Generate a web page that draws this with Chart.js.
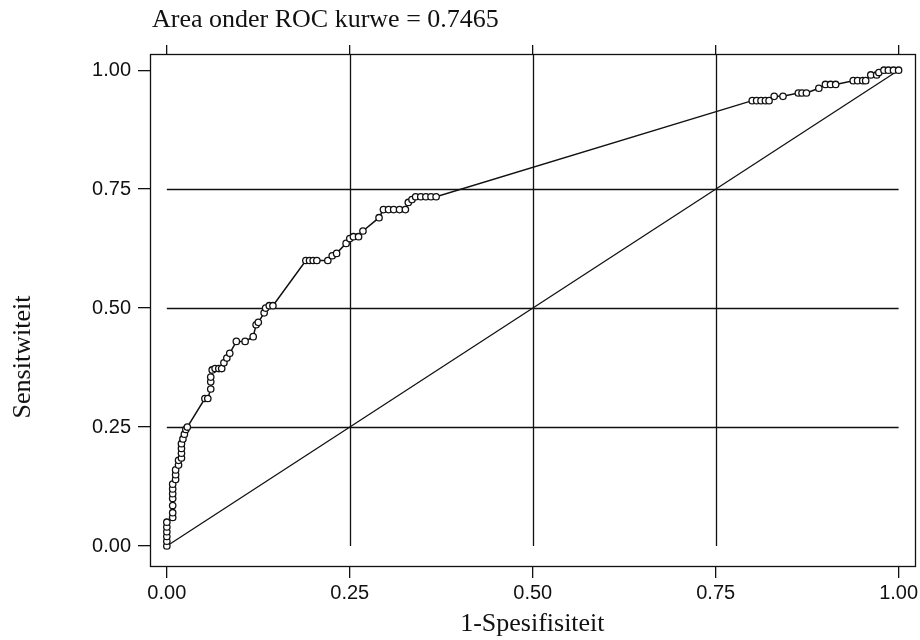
<!DOCTYPE html>
<html>
<head>
<meta charset="utf-8">
<title>ROC kurwe</title>
<script src="https://cdn.jsdelivr.net/npm/chart.js@4.4.1/dist/chart.umd.min.js"></script>
<style>
    html, body { margin: 0; padding: 0; background: #fff; }
    #wrap { width: 920px; height: 640px; position: relative; }
</style>
</head>
<body>
<div id="wrap"><canvas id="rocChart" width="920" height="640"></canvas></div>
<script>
// ROC curve points (1-spesifisiteit, sensitiwiteit)
const rocFpr = [
    0, 0, 0, 0, 0, 0,
    0.008, 0.008, 0.008, 0.008, 0.008, 0.008, 0.008,
    0.012, 0.012, 0.012, 0.016, 0.016,
    0.02, 0.02, 0.02, 0.02, 0.022, 0.024, 0.026, 0.028,
    0.052, 0.056, 0.06, 0.06, 0.06, 0.062, 0.066, 0.071, 0.075,
    0.078, 0.082, 0.086, 0.095, 0.107, 0.118, 0.122, 0.125, 0.133, 0.135, 0.14, 0.145,
    0.19, 0.195, 0.2, 0.205, 0.22, 0.226, 0.232, 0.245, 0.25, 0.255, 0.262, 0.268,
    0.29, 0.296, 0.303, 0.31, 0.318, 0.326, 0.33, 0.335, 0.34, 0.347, 0.354, 0.361, 0.368,
    0.8, 0.806, 0.812, 0.818, 0.823, 0.83, 0.842, 0.863, 0.868, 0.874,
    0.891, 0.9, 0.907, 0.914, 0.938, 0.944, 0.951, 0.955,
    0.962, 0.97, 0.973, 0.98, 0.986, 0.993, 1
];
const rocTpr = [
    0, 0.01, 0.02, 0.03, 0.04, 0.05,
    0.06, 0.07, 0.085, 0.1, 0.11, 0.12, 0.13,
    0.14, 0.15, 0.16, 0.17, 0.18,
    0.185, 0.195, 0.205, 0.215, 0.225, 0.235, 0.245, 0.25,
    0.31, 0.31, 0.33, 0.345, 0.355, 0.37, 0.373, 0.373, 0.373,
    0.385, 0.395, 0.405, 0.43, 0.43, 0.44, 0.465, 0.47, 0.49, 0.5, 0.505, 0.505,
    0.6, 0.6, 0.6, 0.6, 0.6, 0.61, 0.615, 0.636, 0.646, 0.65, 0.65, 0.662,
    0.69, 0.707, 0.707, 0.707, 0.707, 0.707, 0.722, 0.728, 0.734, 0.734, 0.734, 0.734, 0.734,
    0.936, 0.936, 0.936, 0.936, 0.936, 0.945, 0.945, 0.952, 0.952, 0.952,
    0.962, 0.97, 0.97, 0.97, 0.978, 0.978, 0.978, 0.978,
    0.99, 0.99, 0.995, 1, 1, 1, 1
];

// reference line
const diagX = [0, 1];
const diagY = [0, 1];

// tick values
const xTicks = [0, 0.25, 0.5, 0.75, 1];
const yTicks = [0, 0.25, 0.5, 0.75, 1];
const innerGrid = [0.25, 0.5, 0.75];

const titleText = 'Area onder ROC kurwe = 0.7465';
const xTitle = '1-Spesifisiteit';
const yTitle = 'Sensitwiteit';

const serif = '"Liberation Serif", "Times New Roman", serif';
const sans = '"Liberation Sans", Arial, sans-serif';

function toPoints(xs, ys) {
    return xs.map((x, i) => ({ x: x, y: ys[i] }));
}

function setTicks(values) {
    return function(scale) {
        scale.ticks = values.map(v => ({ value: v }));
    };
}

// fixed axis sizes so the plot box sits where the original one is
function fixSize(size) {
    return function(scale) {
        if (scale.isHorizontal()) {
            scale.height = size;
        } else {
            scale.width = size;
        }
        scale.paddingLeft = 0;
        scale.paddingRight = 0;
        scale.paddingTop = 0;
        scale.paddingBottom = 0;
    };
}

// box, inner grid lines and loose texts
const frame = {
    id: 'frame',
    beforeDatasetsDraw(chart) {
        const { ctx, chartArea } = chart;
        const xs = chart.scales.x;
        const ys = chart.scales.y;
        ctx.save();
        ctx.strokeStyle = '#111';
        ctx.lineWidth = 1.3;
        innerGrid.forEach(v => {
            const px = Math.round(xs.getPixelForValue(v)) + 0.5;
            ctx.beginPath();
            ctx.moveTo(px, chartArea.top);
            ctx.lineTo(px, ys.getPixelForValue(0));
            ctx.stroke();
            const py = Math.round(ys.getPixelForValue(v)) + 0.5;
            ctx.beginPath();
            ctx.moveTo(xs.getPixelForValue(0), py);
            ctx.lineTo(xs.getPixelForValue(1), py);
            ctx.stroke();
        });
        ctx.strokeRect(Math.round(chartArea.left) + 0.5, Math.round(chartArea.top) + 0.5,
            Math.round(chartArea.right - chartArea.left), Math.round(chartArea.bottom - chartArea.top));
        ctx.restore();
    },
    afterDraw(chart) {
        const { ctx, chartArea } = chart;
        ctx.save();
        ctx.fillStyle = '#111';
        ctx.font = '26px ' + serif;
        ctx.textBaseline = 'middle';
        ctx.textAlign = 'left';
        ctx.fillText(titleText, chartArea.left + 2, 20);

        ctx.translate(23, 357);
        ctx.rotate(-Math.PI / 2);
        ctx.textAlign = 'center';
        ctx.font = '26px ' + serif;
        ctx.fillText(yTitle, 0, 0);
        ctx.restore();
    }
};

const tickFont = { family: sans, size: 20 };

const rocChart = new Chart(document.getElementById('rocChart'), {
    type: 'scatter',
    data: {
        datasets: [{
            label: 'ROC',
            data: toPoints(rocFpr, rocTpr),
            showLine: true,
            borderColor: '#111',
            borderWidth: 1.5,
            pointRadius: 3.2,
            pointBorderWidth: 1.3,
            pointBorderColor: '#111',
            pointBackgroundColor: '#fff',
            order: 1
        }, {
            label: 'Verwysing',
            data: toPoints(diagX, diagY),
            showLine: true,
            borderColor: '#111',
            borderWidth: 1.3,
            pointRadius: 0,
            order: 2
        }]
    },
    options: {
        responsive: false,
        animation: false,
        layout: { padding: { top: 0, left: 0, right: 2, bottom: 0 } },
        plugins: {
            legend: { display: false },
            tooltip: { enabled: false }
        },
        scales: {
            x: {
                type: 'linear',
                position: 'bottom',
                min: -0.023,
                max: 1.022,
                afterBuildTicks: setTicks(xTicks),
                afterFit: fixSize(74),
                border: { display: false },
                grid: {
                    drawOnChartArea: false,
                    drawTicks: true,
                    tickLength: 12,
                    lineWidth: 1.3,
                    color: '#111'
                },
                ticks: {
                    color: '#111',
                    font: tickFont,
                    padding: 3,
                    maxRotation: 0,
                    callback: v => v.toFixed(2)
                },
                title: {
                    display: true,
                    text: xTitle,
                    color: '#111',
                    font: { family: serif, size: 26 },
                    padding: { top: 0, bottom: 0 }
                }
            },
            xTop: {
                type: 'linear',
                position: 'top',
                min: -0.023,
                max: 1.022,
                afterBuildTicks: setTicks(xTicks),
                afterFit: fixSize(54),
                border: { display: false },
                grid: {
                    drawOnChartArea: false,
                    drawTicks: true,
                    tickLength: 9,
                    lineWidth: 1.3,
                    color: '#111'
                },
                ticks: { display: false }
            },
            y: {
                type: 'linear',
                min: -0.042,
                max: 1.034,
                afterBuildTicks: setTicks(yTicks),
                afterFit: fixSize(150),
                border: { display: false },
                grid: {
                    drawOnChartArea: false,
                    drawTicks: true,
                    tickLength: 12,
                    lineWidth: 1.3,
                    color: '#111'
                },
                ticks: {
                    color: '#111',
                    font: tickFont,
                    padding: 7,
                    callback: v => v.toFixed(2)
                }
            }
        }
    },
    plugins: [frame]
});
</script>
</body>
</html>
